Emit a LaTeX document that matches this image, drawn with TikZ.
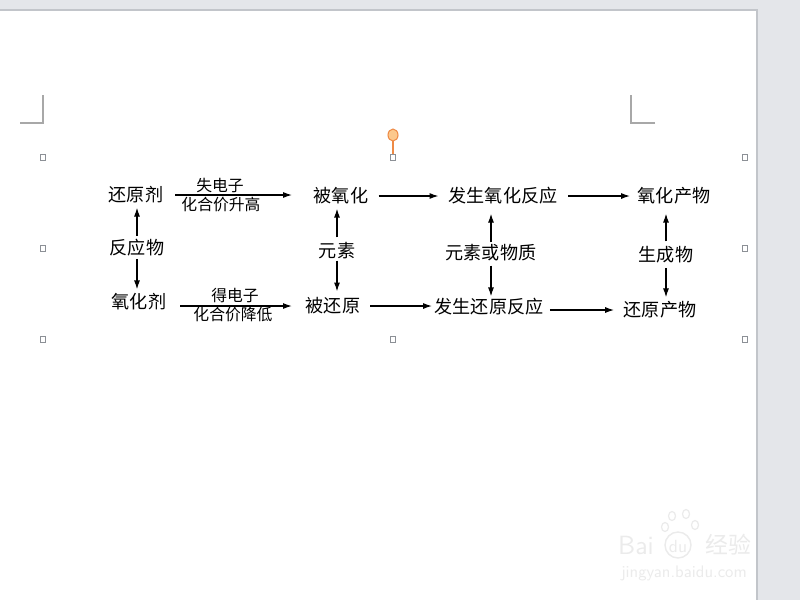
\documentclass[tikz,border=0pt]{standalone}
\usepackage{fontspec}
\newfontfamily\cjk{Noto Sans CJK SC}
\usetikzlibrary{arrows.meta}
\definecolor{chrome}{HTML}{E4E6EA}
\definecolor{pageedge}{HTML}{C2C5CA}
\definecolor{markgray}{HTML}{A8A8A8}
\definecolor{handlegray}{HTML}{8C9096}
\definecolor{rotfill}{HTML}{FCC88C}
\definecolor{rotline}{HTML}{EE8A45}
\definecolor{wmark}{HTML}{EBEBEB}

\begin{document}
\begin{tikzpicture}[x=0.02cm,y=-0.02cm,
    lbl/.style={inner sep=0pt,font=\cjk\fontsize{10.3pt}{12pt}\selectfont},
    elbl/.style={inner sep=0pt,font=\cjk\fontsize{9pt}{11pt}\selectfont},
    arr/.style={line width=0.6pt,-{Latex[length=5pt,width=3.4pt]}},
    wm/.style={inner sep=0pt,text=wmark}]
  \useasboundingbox (0,0) rectangle (800,600);
  % the window and the page
  \fill[chrome] (0,0) rectangle (800,600);
  \fill[white] (0,10) rectangle (757,600);
  \draw[pageedge,line width=0.8pt] (0,10) -- (757,10) -- (757,600);
  % corner marks
  \draw[markgray,line width=0.6pt] (20,123) -- (43,123) -- (43,95);
  \draw[markgray,line width=0.6pt] (655,123) -- (631,123) -- (631,95);
  % handles of the frame
  \foreach \hx/\hy in {43/157,393/157,745/157,43/248,745/248,43/339,393/339,745/339}
    \draw[handlegray,fill=white,line width=0.5pt] (\hx-2.5,\hy-3) rectangle (\hx+2.5,\hy+3);
  \draw[rotline,line width=0.7pt] (393,141) -- (393,154);
  \draw[rotline,fill=rotfill,line width=0.6pt] (393,135) ellipse (5 and 6);

  % left column
  \node[lbl] (hyj) at (136,195) {还原剂};
  \node[lbl] (fyw) at (137,248) {反应物};
  \node[lbl] (yhj) at (139,302) {氧化剂};
  % labels on the first arrows
  \node[elbl] (sdz) at (220,185) {失电子};
  \node[elbl] (hjsg) at (221,205) {化合价升高};
  \node[elbl] (ddz) at (235,296) {得电子};
  \node[elbl] (hjjd) at (233,315) {化合价降低};
  % second column
  \node[lbl] (byh) at (341,196) {被氧化};
  \node[lbl] (ys) at (337,251) {元素};
  \node[lbl] (bhy) at (333,306) {被还原};
  % third column
  \node[lbl] (fsyh) at (503,196) {发生氧化反应};
  \node[lbl] (ysw) at (491,253) {元素或物质};
  \node[lbl] (fshy) at (489,307) {发生还原反应};
  % fourth column
  \node[lbl] (yhcw) at (674,196) {氧化产物};
  \node[lbl] (scw) at (666,255) {生成物};
  \node[lbl] (hycw) at (660,310) {还原产物};

  % vertical arrows
  \draw[arr,shorten <=1.7pt,shorten >=2.3pt] (fyw.north) -- (fyw.north |- hyj.south);
  \draw[arr,shorten <=1.1pt,shorten >=2.3pt] (fyw.south) -- (fyw.south |- yhj.north);
  \draw[arr,shorten <=2.8pt,shorten >=2.3pt] (ys.north) -- (ys.north |- byh.south);
  \draw[arr,shorten <=0.6pt,shorten >=3.4pt] (ys.south) -- (ys.south |- bhy.north);
  \draw[arr,shorten <=1.1pt,shorten >=5.1pt] (ysw.north) -- (ysw.north |- fsyh.south);
  \draw[arr,shorten <=2.3pt,shorten >=1.1pt] (ysw.south) -- (ysw.south |- fshy.north);
  \draw[arr,shorten <=2.8pt,shorten >=5.1pt] (scw.north) -- (scw.north |- yhcw.south);
  \draw[arr,shorten <=2.3pt,shorten >=2.3pt] (scw.south) -- (scw.south |- hycw.north);

  % horizontal arrows
  \draw[arr,shorten <=6.6pt,shorten >=12.3pt] (hyj.east) -- (hyj.east -| byh.west);
  \draw[arr,shorten <=7.8pt,shorten >=7.8pt] (yhj.east |- bhy.west) -- (bhy.west);
  \draw[arr,shorten <=5.7pt,shorten >=5.7pt] (byh.east) -- (fsyh.west);
  \draw[arr,shorten <=5.9pt,shorten >=4.3pt] (fsyh.east) -- (yhcw.west);
  \draw[arr,shorten <=5.5pt,shorten >=1.4pt] (bhy.east) -- (bhy.east -| fshy.west);
  \draw[arr,shorten <=3.6pt,shorten >=5.4pt] (fshy.east |- hycw.west) -- (hycw.west);

  % watermark
  \node[wm,font=\sffamily\fontsize{15pt}{17pt}\selectfont] (wbai) at (636,545) {Bai};
  \draw[wmark,line width=0.8pt] (678,545) circle (13);
  \node[wm,font=\sffamily\fontsize{10pt}{12pt}\selectfont] (wdu) at (678,546) {du};
  \foreach \px/\py in {665/527,672/516,686/514,695/525}
    \draw[wmark,line width=0.7pt] (\px,\py) ellipse (3.5 and 4.5);
  \node[wm,font=\cjk\fontsize{13pt}{15pt}\selectfont] (wjy) at (728,545) {经验};
  \node[wm,font=\sffamily\fontsize{9.5pt}{11pt}\selectfont] (wurl) at (684,573) {jingyan.baidu.com};
\end{tikzpicture}
\end{document}
